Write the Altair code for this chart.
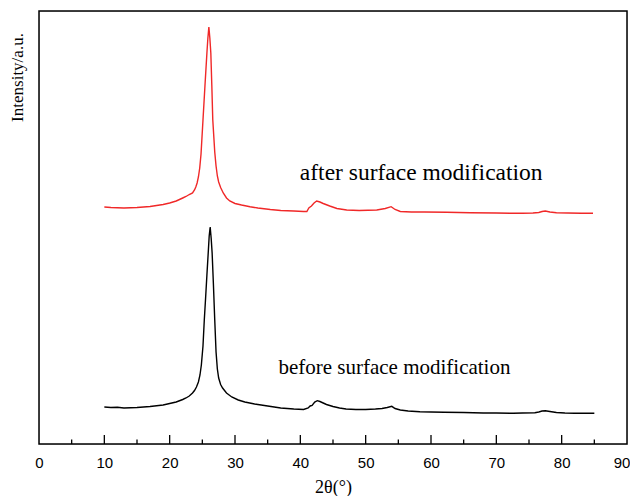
import altair as alt
import pandas as pd

# two-theta positions and intensities (arbitrary units)
before_x = [10.0, 11, 12, 13, 14, 15, 16, 17, 18, 19, 20, 21, 22, 22.5, 23, 23.5, 23.8, 24.1, 24.4, 24.64,
            24.85, 25.1, 25.3, 25.5, 25.7, 25.9, 26.05, 26.2, 26.35, 26.5, 26.7, 26.9, 27.1, 27.3,
            27.5, 27.8, 28.1, 28.7, 29.5, 30.5, 31.5, 33, 35, 37, 39, 40.5, 41.2, 41.5, 41.8, 42.2, 42.6,
            43.0, 43.5, 44, 45, 46, 47, 48.5, 50, 51.5, 52.5, 53.3, 54.0, 54.5, 55.3, 56.5, 58.3,
            60, 62, 65, 68, 70, 72.6, 74, 75.9, 76.5, 77.0, 77.5, 78.2, 79.2, 80.5, 82, 83.5, 85]
before_y = [37, 36.5, 36.8, 36, 36.3, 36.5, 37, 37.5, 38.2, 39, 40.5, 42, 44.5, 46, 48, 51, 53.5, 57, 62, 69,
            79, 98, 124, 146, 169, 191, 208, 217, 206, 191, 159, 124, 92, 75,
            66, 59.5, 56, 51, 47, 44, 42, 40, 38, 36, 35, 34.5, 36, 38, 38.5, 42, 43.3,
            42.5, 41, 39.5, 37.5, 36, 35, 34.5, 34.5, 35, 35.5, 36.5, 37.7, 35.5, 34, 33, 32.3,
            32, 31.7, 31.5, 31, 31, 30.7, 31, 31.3, 32, 33, 33.3, 32.5, 31.5, 31, 30.8, 30.7, 30.7]

after_x = [10, 11, 12, 13, 14, 15, 16, 17, 18, 19, 20, 21, 22, 22.5, 23, 23.5, 23.8, 24.0, 24.2, 24.4, 24.6, 24.8,
           25.1, 25.4, 25.7, 25.85, 26.0, 26.15, 26.3, 26.45, 26.6, 26.9, 27.1, 27.3, 27.5, 27.8, 28.2,
           28.7, 29.2, 30, 31, 32.3, 33.5, 35.4, 37, 39, 40.5, 41.0, 41.3, 41.7, 42.1, 42.5, 43.0,
           43.5, 44.5, 45.6, 47.1, 49, 51.7, 53, 53.9, 54.5, 55.3, 57, 59, 62.4, 66, 70, 72.6, 74,
           75.6, 76.5, 77.0, 77.5, 78.2, 79.2, 81, 83, 84.8]
after_y = [237, 236.5, 236.2, 236, 236.3, 236.5, 237, 237.5, 238.5, 239.5, 241, 243, 246, 247.5, 249.5, 251, 254, 257, 261, 267, 276, 290,
           324, 358, 391, 406, 417, 406, 391, 359, 324, 292, 278, 268, 262, 256.5, 251,
           246, 243, 240.5, 239, 237.3, 236, 234.5, 233.5, 233, 232.5, 232.5, 236, 238, 241, 243, 242,
           240.5, 238, 235.5, 234, 233.5, 234, 235.5, 237.3, 234.5, 232.5, 232, 232, 231.7, 231.2, 231, 230.7, 230.8,
           231, 231.5, 232.5, 233, 232, 231.3, 231, 230.8, 230.7]

series_names = ["before surface modification", "after surface modification"]
series_colors = ["#000000", "#f02828"]

major_ticks = [10, 20, 30, 40, 50, 60, 70, 80]
minor_ticks = [5, 15, 25, 35, 45, 55, 65, 75, 85]
x_labels = [0, 10, 20, 30, 40, 50, 60, 70, 80, 90]
last_label = [90]

notes = pd.DataFrame({
    "x": [58.5, 54.4],
    "y": [271, 76],
    "text": ["after surface modification", "before surface modification"],
    "fs": [23.5, 21],
})

df = pd.concat([
    pd.DataFrame({"x": before_x, "y": before_y, "s": series_names[0], "o": range(len(before_x))}),
    pd.DataFrame({"x": after_x, "y": after_y, "s": series_names[1], "o": range(len(after_x))}),
])

W, H = 588, 433
xs = alt.Scale(domain=[0, 90], nice=False, zero=False)
ys = alt.Scale(domain=[0, 433], nice=False, zero=False)

lines = alt.Chart(df).mark_line(strokeWidth=1.4).encode(
    x=alt.X("x:Q", scale=xs, axis=alt.Axis(
        title="2θ(°)", values=x_labels, ticks=False, tickSize=0, labelPadding=11,
        labelExpr="datum.value == 90 ? '' : datum.label",
        grid=False, domain=False, labelFont="Liberation Sans", labelFontSize=15,
        labelColor="black", titleFont="Liberation Serif", titleFontSize=18,
        titleFontWeight="normal", titleColor="black", titleY=43, titleBaseline="middle",
        labelFlush=False)),
    y=alt.Y("y:Q", scale=ys, axis=alt.Axis(
        title="Intensity/a.u.", labels=False, ticks=False, grid=False, domain=False,
        titleFont="Liberation Serif", titleFontSize=17, titleFontWeight="normal",
        titleColor="black", titleX=-22, titleY=66, titleAngle=270,
        titleAlign="center", titleBaseline="middle")),
    color=alt.Color("s:N", scale=alt.Scale(domain=series_names, range=series_colors), legend=None),
    order="o:Q",
    detail="s:N",
)

last = alt.Chart(pd.DataFrame({"t": last_label})).mark_text(
    font="Liberation Sans", fontSize=15, color="black", align="center", baseline="middle", dx=-5).encode(
    x=alt.X("t:Q", scale=xs), y=alt.value(H + 19), text="t:Q")

major = alt.Chart(pd.DataFrame({"t": major_ticks})).mark_rule(color="black", strokeWidth=1.3).encode(
    x=alt.X("t:Q", scale=xs), y=alt.value(H), y2=alt.value(H - 9))
minor = alt.Chart(pd.DataFrame({"t": minor_ticks})).mark_rule(color="black", strokeWidth=1.3).encode(
    x=alt.X("t:Q", scale=xs), y=alt.value(H), y2=alt.value(H - 4.5))

frame = alt.Chart(pd.DataFrame({"t": [0]})).mark_rect(fill=None, stroke="black", strokeWidth=1.5).encode(
    x=alt.value(0), x2=alt.value(W), y=alt.value(0), y2=alt.value(H))

texts = alt.Chart(notes).mark_text(font="Liberation Serif", color="black",
                                   align="center", baseline="middle").encode(
    x=alt.X("x:Q", scale=xs), y=alt.Y("y:Q", scale=ys), text="text:N",
    size=alt.Size("fs:Q", scale=None, legend=None))

chart = alt.layer(lines, major, minor, frame, texts, last).properties(
    width=W, height=H,
    autosize=alt.AutoSizeParams(type="none"),
    padding={"left": 31, "top": 3, "right": 3, "bottom": 52},
).configure_view(stroke=None).configure(background="white")

chart.save("out.html", embed_options={"renderer": "svg", "actions": False})
